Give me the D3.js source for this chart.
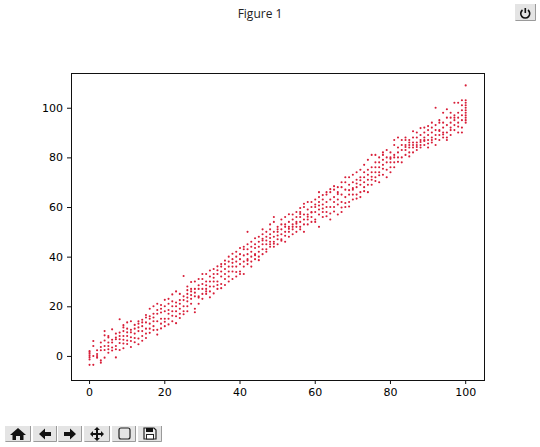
<!DOCTYPE html>
<html><head><meta charset="utf-8">
<script src="https://cdn.jsdelivr.net/npm/d3@7/dist/d3.min.js"></script>
<style>html,body{margin:0;padding:0;background:#fff;overflow:hidden}svg{display:block}</style>
</head><body><svg id="c" width="540" height="447"></svg>
<script>
const xTicks=[0,20,40,60,80,100];
const yTicks=[0,20,40,60,80,100];
const figureTitle="Figure 1";
const yByX=[
[-3.6,-1.4,-0.5,0.3,1,1.6,2],[-3.6,0,4,6],[-0.7,0,0.8,2.3],[-2.7,-1.8,2.3,3.6,5.4],[-0.7,2.4,4,6.2,8.3,10],[1.3,2.7,4,5.4,7.4,8],
[2.2,3.4,5.4,6.5,10.7],[-0.6,2.7,4,6.7,7.4,9],[2.4,5.2,6.7,8,9.4,14.8],[3.1,5,6.5,8,10,11.5,12.4],[4.8,6.2,8,9.5,11,13.5],
[3.6,6,7.5,9.5,10.5,14],[5.5,7.2,9,11,12.5],[4.7,7,10,11.5,13,14],[6.1,8,10,12,13.5,14.6],[7.2,9,11,13.5,15.5,16.5],
[9.3,11,13,15,16,19],[10.4,12,14,15.5,17,20],[8.6,10.5,14,17,18.5,21],[11.1,13,15,17.5,19,20.5],[12,13.8,15,18,20,22.6],
[12.7,15,17,18.5,21,23],[14,16.2,18,20,22,24.8],[13.2,16,18,20,21.5,26],[15.3,17,19,21,22.5,25],[16.8,18,20,22.5,24,32.2],
[18,20,22,23.5,25,26.5,28],[21,23,24.5,26,27,29.8],[17.6,19,24,25.5,27,30],[21,23.5,24,27,28.5,31],[23,25,27,29,31,33],
[25,26,27,28.5,30,33],[23.6,26,28,30,32,34.4],[25.2,28,30,31.5,33,35],[27,28.6,30,33,34.5,36.1],[27.3,29,32,34,36,37],
[28.6,31,33,35,37,38.4],[30,32,34,36,38,40],[31,34,36,37.5,39,41.2],[32,33.8,36,38,40,42],[33,34,37,39,41,43.5],
[33,36,38,40.5,43,44],[37,38.4,39,41,43,45,50],[36,38,40,42,44,46],[39,40.6,41,43.5,45,47.4],[38.6,40,42,44,46,48],
[41,43,45,46.5,47.2,49,51],[42,43,45,46.5,48,50],[44,45,46,47.5,49,51,53],[44,45.2,46,48,50,54,56],[45,47,48.5,50,51,52],
[46.4,47,49,51,53,55],[46,48.4,50,52,53,56],[48,50,51.2,52,54,57.1],[49,51,52,53,55,57],[50,52,53.3,54,56,58],
[51,52,54,56,57.2,58,59.6],[50,53,55,57,60,61.3],[53,55,56.1,57,59,62],[54,56,57.8,58,60,62],[54,55,58,60,61,63],
[52,57,59,60.6,62,64,66],[56,58,59.4,61,63,64.8],[56.3,58,60,62,65,66],[55,57.4,60,63,66,67.2],[58.2,60,62,64,67,68.4],
[57,61,63,65.2,66,68],[58,59.8,62,65,68,70],[60,61.6,64,67,70,72],[60.2,62,65,66.8,69,72],[63,65,67,70,73,67.6],
[63.4,65,68,69.5,71,74],[66,64,69,70.8,72,75],[66.4,68,70,72,74,77],[66,69,71,73,75,79],[69,71,72.2,74,76,81],
[70.5,72,74,76,78,81],[70,72.8,74,76,78,80],[73,75.4,77,79,81,82],[72,75,78,80,83],[74,76,78,79.4,80,82],
[76,78,80,81,87,85],[78.2,80,82,84,88],[78,80,83,85,87],[81,83,84.2,85,87,88],[80.4,82,84,85,86,87],
[82,84,85,86,88,90.5],[83,84.2,85,86,88,90],[84,85,86.2,87,89,91.8],[85,86.6,87,88,90,92],[84,85.6,87,89,91,92.6],
[86,87,88,90,92,94],[85,87.4,89,91,93,100],[87,89,90.6,91,94,95],[88,89.2,90,92,94,98],[87,88,90,93,96,99.4],
[89,91,92,94,96,98],[91,93,95,96,97,102],[90,92.4,94,96,98,102],[90,92,95,97,99,101,103],[94,95,96,97,98,99,100,101,102,103,109]
];

const W=540,H=447,m={l:71,r:484,t:73,b:380};
const svg=d3.select("#c");
const x=d3.scaleLinear().domain([-4.8,105]).range([m.l,m.r]);
const y=d3.scaleLinear().domain([-9.7,114]).range([m.b,m.t]);
const tickFont='"DejaVu Sans",sans-serif';

svg.append("text").attr("x",260).attr("y",18).attr("text-anchor","middle")
  .attr("font-family",'"Open Sans",sans-serif').attr("font-size",12).attr("fill","#222").text(figureTitle);

const pts=yByX.flatMap((ys,i)=>ys.map(v=>[i,v]));
svg.append("g").selectAll("circle").data(pts).join("circle")
  .attr("cx",d=>x(d[0])+0.5).attr("cy",d=>y(d[1])).attr("r",1.05).attr("fill","#d81e38");

const gx=svg.append("g").attr("transform",`translate(0,${m.b})`).call(d3.axisBottom(x).tickValues(xTicks).tickSize(4).tickPadding(4).tickFormat(d3.format("d")));
const gy=svg.append("g").attr("transform",`translate(${m.l},0)`).call(d3.axisLeft(y).tickValues(yTicks).tickSize(4).tickPadding(4).tickFormat(d3.format("d")));
[gx,gy].forEach(g=>{g.select(".domain").remove();g.selectAll("text").attr("font-family",tickFont).attr("font-size",11).attr("fill","#000");g.selectAll("line").attr("stroke","#111");});
svg.append("rect").attr("x",m.l+.5).attr("y",m.t+.5).attr("width",m.r-m.l).attr("height",m.b-m.t).attr("fill","none").attr("stroke","#111");

function btn(x0,y0,w,h){
  svg.append("rect").attr("x",x0).attr("y",y0).attr("width",w).attr("height",h).attr("fill","#e4e4e4");
  svg.append("path").attr("d",`M${x0+.5} ${y0+h-.5}H${x0+w-.5}V${y0}`).attr("fill","none").attr("stroke","#9a9a9a");
}
const ic=(g)=>g.attr("fill","#111").attr("stroke","none");
btn(515,4,21,17);
svg.append("path").attr("d","M522.5 10a4.5 4.5 0 1 0 5.5 0").attr("fill","none").attr("stroke","#111").attr("stroke-width",1.6);
svg.append("path").attr("d","M525.3 8V13").attr("stroke","#111").attr("stroke-width",1.6);
[[5,26],[33,24],[58,24],[84,26],[112,24],[138,24]].forEach(b=>btn(b[0],426,b[1],16));
ic(svg.append("path").attr("d","M18 428L26 435H23.5V440H20V436H16V440H12.5V435H10Z"));
ic(svg.append("path").attr("d","M39 434L45 428.5V432H51V436H45V439.5Z"));
ic(svg.append("path").attr("d","M76 434L70 428.5V432H64V436H70V439.5Z"));
ic(svg.append("path").attr("d","M97 427L100 430H98V433H101V431L104 434L101 437V435H98V438H100L97 441L94 438H96V435H93V437L90 434L93 431V433H96V430H94Z"));
svg.append("rect").attr("x",119).attr("y",428).attr("width",11).attr("height",11).attr("rx",2).attr("fill","none").attr("stroke","#222").attr("stroke-width",1.2);
svg.append("path").attr("d","M144 428H154L156 430V439H144Z").attr("fill","#eee").attr("stroke","#222").attr("stroke-width",1.2);
ic(svg.append("path").attr("d","M146 428H153V432H146Z"));
svg.append("rect").attr("x",146.5).attr("y",434.5).attr("width",7).attr("height",4.5).attr("fill","#fff").attr("stroke","#222");
</script></body></html>
